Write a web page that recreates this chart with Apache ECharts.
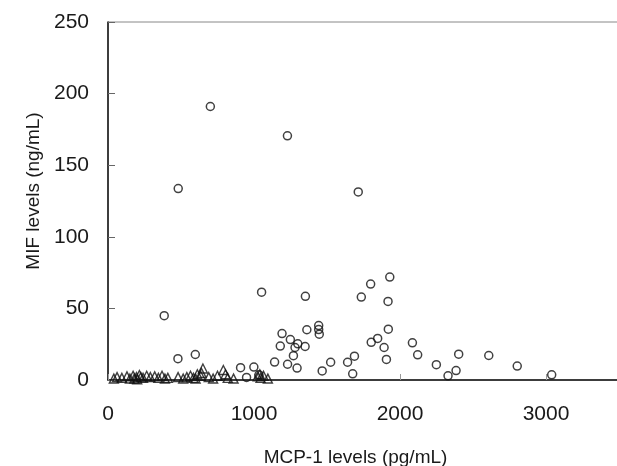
<!DOCTYPE html>
<html>
<head>
<meta charset="utf-8">
<script src="https://cdn.jsdelivr.net/npm/echarts@6/dist/echarts.min.js"></script>
<style>
html,body{margin:0;padding:0;background:#fff;}
#chart{width:617px;height:466px;}
</style>
</head>
<body>
<div id="chart"></div>
<script>
// MCP-1 (pg/mL) vs MIF (ng/mL)
const circleX = [701,1229,481,1714,385,1052,1352,1735,1799,1930,1918,1920,1443,1443,1447,1362,1192,1249,1180,1300,1281,1350,1270,1141,1230,1295,1467,1525,1641,1688,1676,1803,1847,1891,1907,2085,2121,2249,2329,2384,2402,2608,2803,3039,479,598,908,999,949,1034];
const circleY = [191,170.5,133.7,131.3,44.9,61.3,58.4,57.9,67,71.9,54.9,35.5,38,35.2,32,35.1,32.4,28.2,23.7,25.3,22.7,23.4,17,12.5,11,8.3,6.3,12.4,12.4,16.6,4.3,26.3,29,22.7,14.4,26,17.6,10.7,2.9,6.6,18,17.1,9.7,3.6,14.9,17.8,8.6,9,1.8,3.6];
const triX = [40,62,95,130,150,172,180,195,200,215,225,240,265,290,320,345,370,390,410,480,515,540,565,585,600,612,635,640,650,690,720,750,790,805,820,860,1025,1040,1045,1065,1095];
const triY = [1,2,1.5,2.5,1,3,1,2,0.5,3.5,2,1.5,3,2,2.5,1.5,3,1,1.5,2,1,2,3,1.5,1,4,3,5,8,2,1,3,7,4,1.5,1,2.5,4,1.5,3,1];
const xTicks = [0,1000,2000,3000];
const yTicks = [0,50,100,150,200,250];
const xTitle = 'MCP-1 levels (pg/mL)';
const yTitle = 'MIF levels (ng/mL)';

const circles = circleX.map((x,i)=>[x,circleY[i]]);
const tris = triX.map((x,i)=>[x,triY[i]]);

const FONT = '"Liberation Sans", Arial, Helvetica, sans-serif';
const chart = echarts.init(document.getElementById('chart'), null, {renderer:'canvas'});
chart.setOption({
  backgroundColor:'#fff',
  animation:false,
  grid:{left:108, top:22, width:511, height:358, outerBoundsMode:'none', containLabel:false,
        show:true, borderColor:'#888', borderWidth:1, backgroundColor:'transparent'},
  xAxis:{
    type:'value', min:0, max:3500, interval:1000,
    name:xTitle, nameLocation:'middle', nameGap:68,
    nameTextStyle:{fontFamily:FONT, fontSize:19, color:'#1a1a1a', padding:[0,16,0,0]},
    axisLine:{show:true, lineStyle:{color:'#111', width:1.5}},
    axisTick:{show:true, inside:true, length:6, lineStyle:{color:'#999'}},
    axisLabel:{fontFamily:FONT, fontSize:21, color:'#1a1a1a', margin:24,
      formatter:v=> xTicks.indexOf(v)>=0 ? String(v) : ''},
    splitLine:{show:false}
  },
  yAxis:{
    type:'value', min:0, max:250, interval:50,
    name:yTitle, nameLocation:'middle', nameGap:62, nameRotate:90,
    nameTextStyle:{fontFamily:FONT, fontSize:19, color:'#1a1a1a', padding:[0,0,0,20]},
    axisLine:{show:true, lineStyle:{color:'#111', width:1.5}},
    axisTick:{show:true, inside:true, length:7, lineStyle:{color:'#666'}},
    axisLabel:{fontFamily:FONT, fontSize:21, color:'#1a1a1a', margin:19,
      formatter:v=> yTicks.indexOf(v)>=0 ? String(v) : ''},
    splitLine:{show:false}
  },
  series:[
    {type:'scatter', name:'circle', data:circles, symbol:'circle', symbolSize:8,
     itemStyle:{color:'rgba(0,0,0,0)', borderColor:'#111', borderWidth:1.5}},
    {type:'scatter', name:'triangle', data:tris, symbol:'triangle', symbolSize:9,
     itemStyle:{color:'rgba(0,0,0,0)', borderColor:'#111', borderWidth:1.4}}
  ]
});
</script>
</body>
</html>
